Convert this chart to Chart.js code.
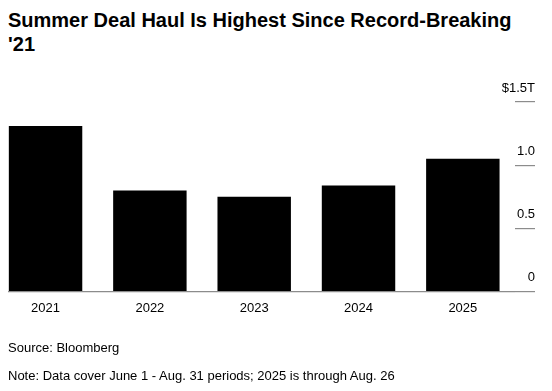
<!DOCTYPE html>
<html>
<head>
<meta charset="utf-8">
<script src="https://cdn.jsdelivr.net/npm/chart.js@4"></script>
<style>
  body { margin: 0; width: 552px; height: 391px; overflow: hidden; background: #fff; position: relative; font-family: "Liberation Sans", Arial, sans-serif; }
  #titulo { position: absolute; left: 8px; top: 8px; font-size: 20px; font-weight: bold; line-height: 24px; color: #000; }
  .nota { position: absolute; left: 8px; font-size: 13px; color: #000; }
  canvas { position: absolute; left: 0; top: 0; }
</style>
</head>
<body>
<div id="titulo">Summer Deal Haul Is Highest Since Record-Breaking<br>'21</div>
<canvas id="myChart" width="552" height="391"></canvas>
<div class="nota" style="top:340px">Source: Bloomberg</div>
<div class="nota" style="top:368px">Note: Data cover June 1 - Aug. 31 periods; 2025 is through Aug. 26</div>
<script>
// datos
var anios = ['2021', '2022', '2023', '2024', '2025'];
var valores = [1.31, 0.80, 0.75, 0.84, 1.05];
var ticksY = [0, 0.5, 1.0, 1.5];
var etiquetasY = ['0', '0.5', '1.0', '$1.5T'];

var puntos = [];
for (var i = 0; i < anios.length; i++) {
    puntos.push({ x: i, y: valores[i] });
}

var canvas = document.getElementById('myChart').getContext('2d');
var chart = new Chart(canvas, {
    type: 'bar',
    data: {
        datasets: [{
            data: puntos,
            backgroundColor: '#000000',
            borderWidth: 0,
            barPercentage: 0.704,
            categoryPercentage: 1
        }]
    },
    options: {
        responsive: false,
        animation: false,
        layout: { padding: { left: 8, right: 17, top: 102, bottom: 69.5 } },
        plugins: { legend: { display: false }, tooltip: { enabled: false } },
        scales: {
            x: {
                type: 'linear',
                offset: false,
                min: -0.36,
                max: 4.5,
                grid: { display: false, offset: false, drawTicks: false },
                border: { display: false },
                afterBuildTicks: function(s) {
                    s.ticks = anios.map(function(a, idx) { return { value: idx }; });
                },
                afterFit: function(s) { s.height = 30; },
                ticks: {
                    autoSkip: false,
                    maxRotation: 0,
                    padding: 9,
                    color: '#000',
                    font: { family: 'Liberation Sans', size: 13 },
                    callback: function(v) { return anios[v]; }
                }
            },
            y: {
                position: 'right',
                min: 0,
                max: 1.5,
                border: { display: false },
                afterBuildTicks: function(s) {
                    s.ticks = ticksY.map(function(v) { return { value: v }; });
                },
                afterFit: function(s) { s.width = 20; },
                grid: {
                    drawOnChartArea: true,
                    drawTicks: true,
                    tickLength: 20,
                    tickColor: '#8c8c8c',
                    lineWidth: 1.2,
                    color: function(ctx) {
                        return ctx.tick && ctx.tick.value === 0 ? '#8c8c8c' : 'rgba(0,0,0,0)';
                    }
                },
                ticks: {
                    mirror: true,
                    padding: 20,
                    labelOffset: -14,
                    color: '#000',
                    font: { family: 'Liberation Sans', size: 13 },
                    callback: function(v) { return etiquetasY[ticksY.indexOf(v)]; }
                }
            }
        }
    }
});
</script>
</body>
</html>
